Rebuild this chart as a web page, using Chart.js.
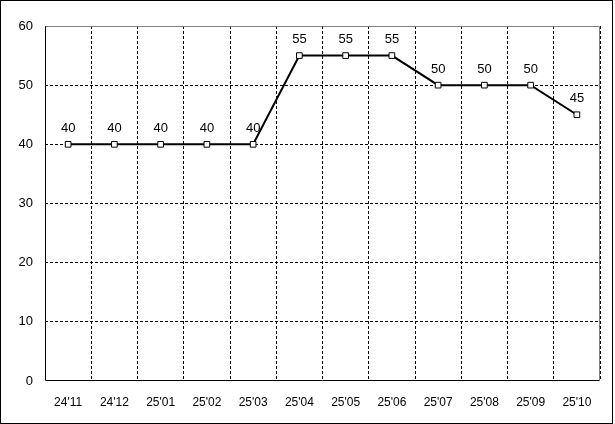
<!DOCTYPE html>
<html>
<head>
<meta charset="utf-8">
<script src="https://cdn.jsdelivr.net/npm/chart.js@4/dist/chart.umd.min.js"></script>
<style>
  html, body { margin: 0; padding: 0; background: #fff; }
  #wrap { width: 615px; height: 424px; position: relative; }
</style>
</head>
<body>
<div id="wrap"><canvas id="chart" width="615" height="424"></canvas></div>
<script>
const months = ["24'11", "24'12", "25'01", "25'02", "25'03", "25'04", "25'05", "25'06", "25'07", "25'08", "25'09", "25'10"];
const values = [40, 40, 40, 40, 40, 55, 55, 55, 50, 50, 50, 45];
const yTicks = [0, 10, 20, 30, 40, 50, 60];

const FONT = '"Liberation Sans", Arial, sans-serif';

const frame = {
  id: 'frame',
  afterDraw(chart) {
    const { ctx, chartArea: a } = chart;
    const l = Math.round(a.left) + 0.5, r = Math.round(a.right) - 0.5;
    const t = Math.round(a.top) + 0.5, b = Math.round(a.bottom) - 0.5;
    ctx.save();
    ctx.lineWidth = 1;
    ctx.setLineDash([]);
    ctx.strokeStyle = '#808080';
    ctx.beginPath();
    ctx.moveTo(l, t); ctx.lineTo(r, t); ctx.lineTo(r, b);
    ctx.stroke();
    ctx.strokeStyle = '#000';
    ctx.beginPath();
    ctx.moveTo(l, t); ctx.lineTo(l, b); ctx.lineTo(r, b);
    ctx.stroke();
    // outer border
    ctx.strokeRect(0.5, 0.5, 612, 423);
    ctx.restore();
  }
};

const labels = {
  id: 'labels',
  afterDatasetsDraw(chart) {
    const { ctx } = chart;
    const meta = chart.getDatasetMeta(0);
    ctx.save();
    ctx.font = '13px ' + FONT;
    ctx.fillStyle = '#000';
    ctx.textAlign = 'center';
    ctx.textBaseline = 'middle';
    meta.data.forEach((p, i) => {
      ctx.fillText(String(values[i]), p.x, p.y - 16);
    });
    ctx.restore();
  }
};

new Chart(document.getElementById('chart').getContext('2d'), {
  type: 'line',
  data: {
    labels: months,
    datasets: [{
      data: values,
      borderColor: '#000',
      borderWidth: 2,
      tension: 0,
      pointStyle: 'rect',
      pointRadius: 4,
      pointBorderWidth: 1,
      pointBorderColor: '#000',
      pointBackgroundColor: '#fff'
    }]
  },
  options: {
    responsive: false,
    animation: false,
    events: [],
    layout: { padding: { top: 26, right: 15, left: 0, bottom: 0 } },
    plugins: { legend: { display: false }, tooltip: { enabled: false } },
    scales: {
      x: {
        offset: true,
        grid: { offset: true, color: '#000', drawTicks: false, lineWidth: 1 },
        border: { display: false, dash: [3, 2] },
        ticks: { color: '#000', font: { family: FONT, size: 12 }, padding: 14, maxRotation: 0, autoSkip: false },
        afterFit(s) { s.height = 43; }
      },
      y: {
        min: 0, max: 60,
        afterBuildTicks(s) { s.ticks = yTicks.map(v => ({ value: v })); },
        grid: {
          color: c => (c.tick && (c.tick.value === 0 || c.tick.value === 60)) ? 'rgba(0,0,0,0)' : '#000',
          drawTicks: false, lineWidth: 1
        },
        border: { display: false, dash: [3, 2] },
        ticks: { color: '#000', font: { family: FONT, size: 13 }, padding: 12 },
        afterFit(s) { s.width = 45; }
      }
    }
  },
  plugins: [frame, labels]
});
</script>
</body>
</html>
